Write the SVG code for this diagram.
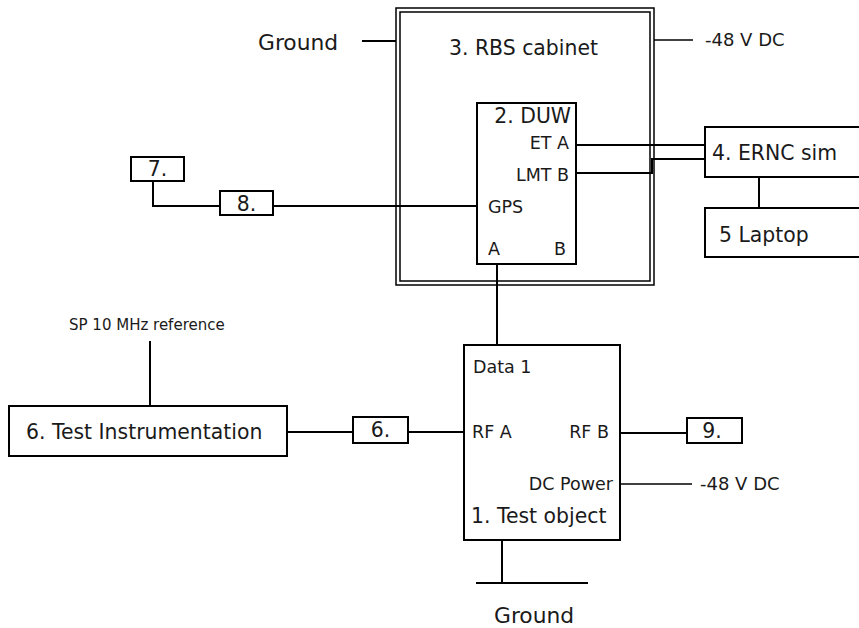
<svg xmlns="http://www.w3.org/2000/svg" width="859" height="628" viewBox="0 0 859 628">
<style>
  text { font-family: "DejaVu Sans", Verdana, sans-serif; fill: #1a1a1a; }
  .lg { font-size: 20.4px; }
  .sm { font-size: 17.5px; }
  .xs { font-size: 15px; }
  .box { fill: #fff; stroke: #000; stroke-width: 2; }
  .thin { fill: none; stroke: #000; stroke-width: 1.5; }
  .ln { fill: none; stroke: #000; stroke-width: 2; }
  .ln1 { fill: none; stroke: #000; stroke-width: 1.4; }
</style>
<rect width="859" height="628" fill="#fff"/>
<g id="connectors">
  <line class="ln" x1="362" y1="41" x2="396" y2="41"/>
  <line class="ln1" x1="654" y1="40" x2="693" y2="40"/>
  <line class="ln" x1="576" y1="145" x2="705" y2="145"/>
  <polyline class="ln" points="576,173 652,173 652,159 705,159"/>
  <line class="ln" x1="759" y1="177" x2="759" y2="208"/>
  <polyline class="ln" points="153,181 153,206 220,206"/>
  <line class="ln" x1="273" y1="206" x2="477" y2="206"/>
  <line class="ln" x1="497" y1="264" x2="497" y2="345"/>
  <line class="ln" x1="150" y1="341" x2="150" y2="406"/>
  <line class="ln" x1="287" y1="432" x2="353" y2="432"/>
  <line class="ln" x1="408" y1="432" x2="464" y2="432"/>
  <line class="ln" x1="620" y1="433" x2="687" y2="433"/>
  <line class="ln1" x1="620" y1="484" x2="692" y2="484"/>
  <line class="ln" x1="502" y1="540" x2="502" y2="583"/>
  <line class="ln" x1="476" y1="583" x2="588" y2="583"/>
</g>
<g id="rbs-cabinet">
  <rect class="thin" x="396" y="8" width="258" height="277"/>
  <rect class="thin" x="400" y="12" width="250" height="269"/>
  <text class="lg" x="449" y="55">3. RBS cabinet</text>
</g>
<g id="ground-top">
  <text class="lg" x="258" y="50" font-size="21.8px" style="font-size:21.8px">Ground</text>
</g>
<g id="dc-top">
  <text x="705" y="46" style="font-size:18px">-48 V DC</text>
</g>
<g id="duw">
  <rect class="box" x="477" y="103" width="99" height="161"/>
  <text class="lg" x="571" y="123" text-anchor="end">2. DUW</text>
  <text class="sm" x="569" y="149" text-anchor="end">ET A</text>
  <text class="sm" x="569" y="181" text-anchor="end">LMT B</text>
  <text class="sm" x="488" y="213">GPS</text>
  <text class="sm" x="488" y="255">A</text>
  <text class="sm" x="566" y="255" text-anchor="end">B</text>
</g>
<g id="ernc-sim">
  <rect class="box" x="705" y="127" width="160" height="50"/>
  <text class="lg" x="712" y="160">4. ERNC sim</text>
</g>
<g id="laptop">
  <rect class="box" x="705" y="208" width="160" height="49"/>
  <text class="lg" x="719" y="242">5 Laptop</text>
</g>
<g id="node7">
  <rect class="box" x="131" y="157" width="53" height="24"/>
  <text class="lg" x="157.5" y="176" text-anchor="middle">7.</text>
</g>
<g id="node8">
  <rect class="box" x="220" y="191" width="53" height="24"/>
  <text class="lg" x="246.5" y="211" text-anchor="middle">8.</text>
</g>
<g id="sp-ref">
  <text class="xs" x="69" y="330">SP 10 MHz reference</text>
</g>
<g id="test-instrumentation">
  <rect class="box" x="9" y="406" width="278" height="50"/>
  <text class="lg" x="26" y="439">6. Test Instrumentation</text>
</g>
<g id="node6">
  <rect class="box" x="353" y="417" width="55" height="26"/>
  <text class="lg" x="380.5" y="437" text-anchor="middle">6.</text>
</g>
<g id="test-object">
  <rect class="box" x="464" y="345" width="156" height="195"/>
  <text class="sm" x="473" y="373">Data 1</text>
  <text class="sm" x="472" y="438">RF A</text>
  <text class="sm" x="609" y="438" text-anchor="end">RF B</text>
  <text class="sm" x="613" y="490" text-anchor="end">DC Power</text>
  <text class="lg" x="471" y="523">1. Test object</text>
</g>
<g id="node9">
  <rect class="box" x="687" y="418" width="55" height="25"/>
  <text class="lg" x="712" y="438" text-anchor="middle">9.</text>
</g>
<g id="dc-bottom">
  <text x="700" y="490" style="font-size:18px">-48 V DC</text>
</g>
<g id="ground-bottom">
  <text class="lg" x="494" y="623" style="font-size:21.8px">Ground</text>
</g>
</svg>
